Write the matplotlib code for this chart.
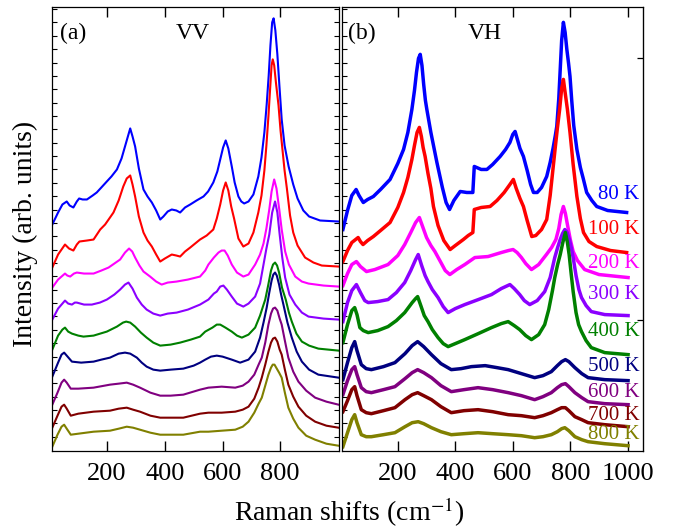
import numpy as np
import matplotlib
matplotlib.use('Agg')
import matplotlib.pyplot as plt

plt.rcParams['font.family'] = ['Liberation Serif', 'DejaVu Serif']
plt.rcParams['mathtext.fontset'] = 'stix'

# temperaturas y colores de cada espectro (de arriba hacia abajo)
temps = ['80 K', '100 K', '200 K', '300 K', '400 K', '500 K', '600 K', '700 K', '800 K']
colores = ['#0000FF', '#FF0000', '#FF00FF', '#8B00FF', '#008000',
           '#000080', '#800080', '#800000', '#808000']

# ---- VV (intensidad en unidades arbitrarias, ya desplazada) ----
x_vv_80 = [10, 30, 45, 60, 70, 83, 95, 103, 115, 130, 150, 164, 180, 199, 215, 234, 250, 262, 272, 280,
           288, 297, 310, 326, 340, 355, 370, 384, 395, 410, 424, 440, 453, 470, 488, 510, 534, 550, 568,
           582, 592, 602, 611, 620, 632, 642, 655, 665, 675, 690, 707, 724, 735, 745, 753, 760, 766, 772,
           777, 783, 790, 797, 805, 815, 829, 845, 860, 880, 900, 938, 1002]
i_vv_80 = [226, 238, 246, 249, 245, 243, 249, 252, 251, 251, 255, 258, 263, 269, 274, 281, 292, 304, 314, 322,
           314, 304, 282, 261, 254, 248, 240, 231, 234, 239, 241, 240, 238, 243, 246, 250, 254, 259, 268,
           279, 291, 303, 310, 302, 284, 268, 254, 249, 247, 249, 256, 274, 293, 318, 346, 375, 405, 428,
           432, 420, 396, 365, 331, 305, 284, 266, 252, 240, 234, 230, 229]

x_vv_100 = [10, 30, 54, 68, 83, 95, 104, 130, 153, 176, 193, 210, 222, 240, 256, 268, 280, 288, 297, 310,
            326, 340, 355, 370, 384, 400, 424, 440, 453, 470, 488, 505, 522, 545, 568, 580, 592, 602, 611,
            620, 630, 640, 655, 672, 690, 707, 724, 735, 745, 752, 759, 765, 770, 774, 779, 785, 794, 801,
            808, 815, 823, 834, 845, 860, 886, 915, 944, 1002]
i_vv_100 = [183, 196, 206, 202, 200, 206, 209, 210, 211, 221, 226, 233, 238, 250, 264, 272, 275, 266, 254, 234,
            218, 210, 204, 196, 189, 192, 196, 195, 194, 199, 203, 207, 211, 215, 221, 232, 246, 260, 268,
            260, 244, 232, 212, 204, 207, 218, 238, 255, 280, 305, 334, 362, 385, 391, 385, 368, 345, 320,
            300, 280, 262, 235, 218, 205, 193, 188, 185, 184]

x_vv_200 = [10, 30, 54, 62, 72, 85, 95, 120, 153, 180, 205, 225, 245, 262, 276, 287, 297, 312, 326, 349,
            370, 389, 410, 441, 480, 522, 540, 551, 570, 586, 597, 607, 618, 632, 650, 672, 690, 713, 730,
            742, 752, 762, 770, 779, 787, 797, 805, 817, 830, 852, 875, 898, 950, 1002]
i_vv_200 = [163, 171, 177, 175, 174, 177, 178, 177, 177, 180, 183, 187, 191, 198, 202, 199, 193, 185, 179, 174,
            169, 166, 168, 169, 171, 174, 180, 186, 193, 198, 200, 200, 195, 186, 178, 174, 176, 186, 196,
            207, 222, 241, 259, 271, 262, 240, 221, 199, 186, 174, 169, 167, 165, 164]

x_vv_300 = [10, 30, 54, 65, 78, 88, 95, 120, 147, 175, 199, 225, 245, 262, 274, 288, 303, 320, 337, 360,
            384, 410, 441, 480, 522, 551, 570, 580, 592, 603, 615, 632, 650, 672, 690, 713, 730, 742, 752,
            762, 772, 782, 790, 798, 807, 817, 832, 852, 875, 898, 950, 1002]
i_vv_300 = [131, 142, 150, 147, 146, 148, 148, 146, 146, 148, 151, 156, 161, 166, 168, 162, 153, 146, 141, 137,
            135, 137, 138, 141, 146, 151, 157, 159, 164, 165, 161, 154, 147, 144, 147, 154, 167, 186, 202,
            216, 238, 249, 238, 216, 193, 173, 156, 146, 138, 134, 132, 131]

x_vv_400 = [10, 30, 45, 54, 65, 78, 100, 118, 153, 199, 234, 255, 266, 280, 297, 317, 337, 360, 384, 420,
            453, 490, 522, 540, 565, 580, 592, 610, 632, 650, 667, 690, 713, 730, 740, 748, 758, 768, 775,
            782, 789, 796, 806, 819, 830, 840, 856, 875, 900, 932, 1002]
i_vv_400 = [101, 115, 121, 123, 119, 117, 115, 114, 115, 119, 124, 128, 129, 128, 124, 118, 113, 108, 105, 106,
            108, 111, 114, 119, 123, 126, 126, 123, 119, 115, 113, 116, 123, 135, 144, 151, 165, 180, 186,
            188, 185, 178, 163, 151, 138, 129, 117, 109, 105, 102, 100]

x_vv_500 = [10, 30, 42, 51, 60, 78, 110, 153, 180, 210, 240, 262, 280, 303, 320, 337, 360, 384, 420, 464,
            500, 522, 540, 560, 580, 600, 632, 661, 690, 713, 730, 742, 753, 762, 770, 776, 782, 788, 796,
            803, 811, 825, 840, 857, 875, 900, 932, 1002]
i_vv_500 = [74, 88, 96, 98, 95, 89, 88, 89, 91, 93, 97, 98, 97, 93, 88, 84, 81, 80, 81, 82,
            85, 88, 91, 94, 95, 94, 91, 88, 91, 99, 113, 128, 143, 158, 170, 176, 178, 175, 166,
            156, 146, 128, 113, 99, 89, 81, 76, 73]

x_vv_600 = [10, 28, 42, 51, 60, 74, 100, 153, 210, 240, 268, 290, 314, 350, 384, 420, 464, 522, 551, 597,
            644, 670, 690, 710, 725, 736, 748, 759, 768, 775, 782, 790, 798, 805, 816, 828, 845, 863, 890,
            921, 960, 1002]
i_vv_600 = [46, 58, 68, 71, 68, 62, 62, 63, 66, 67, 68, 66, 63, 58, 55, 55, 56, 61, 63, 64,
            63, 65, 69, 76, 86, 93, 108, 126, 137, 142, 143, 140, 132, 126, 110, 93, 79, 69, 60,
            53, 49, 46]

x_vv_700 = [10, 28, 42, 51, 60, 74, 100, 153, 210, 240, 268, 290, 314, 350, 384, 420, 464, 522, 551, 597,
            644, 670, 690, 710, 725, 736, 748, 759, 768, 775, 782, 790, 798, 805, 816, 828, 845, 863, 890,
            921, 960, 1002]
i_vv_700 = [23, 35, 44, 46, 42, 35, 37, 39, 40, 42, 43, 41, 39, 35, 33, 33, 33, 37, 38, 38,
            39, 41, 44, 52, 63, 73, 86, 99, 108, 112, 113, 109, 101, 96, 81, 66, 54, 44, 35,
            29, 25, 23]

x_vv_800 = [10, 28, 42, 51, 60, 74, 100, 153, 210, 240, 268, 290, 314, 350, 384, 420, 464, 522, 551, 597,
            644, 670, 690, 710, 725, 736, 748, 759, 768, 774, 780, 788, 796, 805, 816, 828, 845, 863, 890,
            921, 960, 1002]
i_vv_800 = [4, 16, 24, 26, 22, 16, 17, 19, 20, 22, 24, 23, 21, 18, 16, 16, 16, 19, 19, 20,
            21, 24, 29, 38, 47, 53, 65, 76, 83, 86, 86, 82, 78, 73, 58, 43, 32, 23, 15,
            11, 7, 5]

# ---- VH ----
x_vh_80 = [9, 25, 40, 55, 65, 80, 95, 115, 140, 173, 200, 220, 235, 249, 258, 265, 272, 278, 284, 290,
           296, 301, 315, 336, 355, 368, 380, 395, 417, 440, 461, 466, 490, 510, 530, 556, 575, 590, 600,
           608, 615, 625, 637, 650, 662, 672, 685, 700, 718, 730, 740, 748, 753, 760, 765, 770, 776, 782,
           788, 794, 799, 805, 812, 823, 835, 845, 857, 875, 892, 930, 996]
i_vh_80 = [221, 240, 255, 261, 255, 248, 251, 254, 261, 271, 287, 301, 318, 341, 360, 378, 392, 396, 385, 366,
           350, 341, 318, 288, 263, 248, 241, 250, 259, 258, 258, 284, 281, 281, 286, 294, 301, 308, 316,
           319, 312, 302, 294, 280, 266, 258, 258, 263, 274, 288, 302, 315, 324, 352, 381, 410, 428, 418,
           401, 387, 374, 350, 325, 301, 283, 272, 258, 250, 244, 240, 238]

x_vh_100 = [9, 25, 40, 62, 70, 79, 95, 115, 140, 173, 200, 220, 235, 249, 258, 267, 275, 282, 288, 295,
            305, 315, 324, 340, 360, 382, 400, 428, 445, 461, 466, 490, 521, 545, 570, 590, 602, 612, 625,
            637, 650, 666, 680, 700, 718, 730, 740, 747, 755, 763, 770, 776, 782, 790, 799, 810, 823, 835,
            846, 865, 892, 940, 996]
i_vh_100 = [189, 200, 208, 213, 209, 206, 210, 214, 220, 228, 243, 258, 273, 291, 305, 318, 323, 314, 303, 294,
            277, 262, 244, 225, 210, 201, 205, 211, 215, 218, 241, 243, 244, 250, 258, 266, 271, 262, 252,
            244, 230, 214, 215, 221, 231, 255, 282, 301, 322, 341, 362, 371, 358, 341, 318, 286, 254, 232,
            218, 209, 204, 200, 198]

x_vh_200 = [9, 25, 40, 56, 70, 91, 120, 166, 200, 224, 245, 262, 275, 285, 300, 315, 329, 350, 365, 381,
            405, 433, 468, 514, 560, 585, 601, 615, 630, 645, 665, 690, 717, 735, 750, 760, 768, 776, 783,
            790, 800, 810, 825, 850, 900, 1001]
i_vh_200 = [165, 177, 186, 189, 184, 179, 181, 186, 195, 206, 218, 228, 233, 225, 213, 205, 199, 188, 180, 176,
            181, 186, 193, 194, 198, 200, 201, 198, 193, 187, 181, 186, 196, 203, 211, 222, 236, 244, 237,
            226, 211, 199, 190, 181, 176, 173]

x_vh_300 = [9, 25, 40, 56, 70, 85, 97, 130, 166, 195, 224, 245, 262, 271, 283, 295, 305, 320, 340, 358,
            375, 400, 433, 480, 526, 560, 590, 605, 624, 640, 659, 685, 711, 730, 746, 756, 765, 773, 781,
            789, 797, 804, 810, 820, 830, 839, 855, 873, 920, 1001]
i_vh_300 = [129, 148, 160, 166, 158, 150, 148, 149, 151, 158, 168, 180, 191, 196, 185, 175, 169, 161, 153, 144,
            138, 142, 146, 151, 156, 162, 166, 162, 156, 150, 146, 150, 159, 173, 193, 203, 211, 217, 221,
            218, 211, 202, 193, 175, 161, 153, 145, 139, 136, 135]

x_vh_400 = [9, 25, 40, 50, 58, 68, 80, 97, 130, 166, 195, 224, 250, 262, 269, 280, 292, 305, 320, 340,
            358, 375, 400, 433, 480, 526, 560, 584, 605, 624, 645, 665, 690, 711, 725, 738, 746, 756, 765,
            774, 783, 790, 796, 803, 810, 820, 829, 839, 855, 873, 920, 1001]
i_vh_400 = [108, 126, 140, 143, 136, 123, 120, 118, 120, 124, 130, 138, 148, 152, 154, 145, 135, 129, 121, 113,
            107, 104, 107, 111, 117, 123, 127, 129, 125, 121, 115, 111, 116, 126, 141, 160, 173, 186, 196,
            208, 218, 208, 196, 177, 159, 138, 126, 119, 110, 103, 98, 96]

x_vh_500 = [9, 25, 40, 50, 58, 73, 90, 108, 150, 190, 225, 250, 269, 290, 317, 350, 386, 420, 456, 504,
            545, 584, 630, 676, 705, 734, 755, 770, 783, 795, 816, 840, 862, 920, 1001]
i_vh_500 = [71, 88, 103, 109, 100, 86, 82, 81, 84, 88, 97, 105, 109, 104, 96, 87, 81, 82, 84, 85,
            83, 81, 77, 73, 75, 79, 85, 89, 91, 89, 83, 77, 73, 71, 70]

x_vh_600 = [9, 25, 40, 50, 58, 73, 90, 108, 150, 190, 225, 250, 269, 290, 317, 350, 386, 430, 479, 530,
            584, 630, 676, 705, 734, 755, 770, 783, 795, 816, 840, 862, 920, 1001]
i_vh_600 = [56, 70, 81, 84, 76, 63, 59, 58, 61, 64, 72, 78, 81, 78, 73, 65, 59, 61, 63, 61,
            58, 55, 51, 54, 58, 63, 66, 67, 64, 58, 53, 49, 47, 46]

x_vh_700 = [9, 25, 40, 50, 58, 73, 90, 108, 150, 190, 225, 250, 269, 290, 317, 350, 386, 430, 479, 530,
            584, 630, 676, 705, 734, 755, 770, 783, 795, 816, 840, 862, 920, 1001]
i_vh_700 = [39, 50, 61, 64, 55, 41, 38, 37, 40, 43, 51, 56, 58, 55, 51, 44, 38, 40, 41, 39,
            36, 35, 33, 35, 38, 41, 43, 43, 40, 34, 31, 28, 26, 24]

x_vh_800 = [9, 25, 40, 50, 58, 73, 90, 108, 150, 190, 225, 250, 271, 290, 317, 350, 386, 430, 479, 530,
            584, 630, 676, 705, 734, 755, 770, 781, 795, 816, 840, 862, 920, 1001]
i_vh_800 = [4, 18, 31, 36, 28, 16, 14, 14, 16, 18, 24, 28, 29, 27, 23, 19, 16, 17, 18, 17,
            16, 15, 13, 14, 16, 19, 22, 23, 20, 14, 11, 9, 7, 5]

# altura de cada etiqueta de temperatura
y_etiq = [256, 221, 187, 156, 119, 84, 58, 35, 16]

vv = [(x_vv_80, i_vv_80), (x_vv_100, i_vv_100), (x_vv_200, i_vv_200), (x_vv_300, i_vv_300),
      (x_vv_400, i_vv_400), (x_vv_500, i_vv_500), (x_vv_600, i_vv_600), (x_vv_700, i_vv_700),
      (x_vv_800, i_vv_800)]
vh = [(x_vh_80, i_vh_80), (x_vh_100, i_vh_100), (x_vh_200, i_vh_200), (x_vh_300, i_vh_300),
      (x_vh_400, i_vh_400), (x_vh_500, i_vh_500), (x_vh_600, i_vh_600), (x_vh_700, i_vh_700),
      (x_vh_800, i_vh_800)]

fig = plt.figure(figsize=(6.74, 5.30), dpi=100)
axa = fig.add_axes([0.0776, 0.1496, 0.4251, 0.8366])
axb = fig.add_axes([0.5079, 0.1496, 0.4457, 0.8366])

for (x, y), c in zip(vv, colores):
    axa.plot(x, y, color=c, lw=1.5)
for (x, y), c in zip(vh, colores):
    axb.plot(x, y, color=c, lw=2.5)

for t, yy, c in zip(temps, y_etiq, colores):
    axb.text(1040, yy, t, color=c, fontsize=15, ha='right', va='center')

axa.set_xlim(10, 1003)
axb.set_xlim(7, 1052)
axa.set_xticks([200, 400, 600, 800])
axb.set_xticks([200, 400, 600, 800, 1000])

marcas_y = np.arange(14, 443, 13.35)
for ax in (axa, axb):
    ax.set_ylim(0, 443)
    ax.set_yticks(marcas_y)
    ax.tick_params(axis='x', direction='in', top=True, length=7, width=1, labelsize=19, pad=9)
    ax.tick_params(axis='y', direction='in', length=3.5, width=0.8, labelleft=False)
    for s in ax.spines.values():
        s.set_linewidth(0.9)
axa.tick_params(axis='y', right=True)

# marcas grandes a la derecha del panel (b)
sec = axb.secondary_yaxis('right')
sec.set_yticks([131, 392])
sec.tick_params(direction='in', length=4, width=0.9, labelright=False)

axa.text(0.027, 0.928, '(a)', transform=axa.transAxes, fontsize=17, ha='left', va='baseline')
axa.text(0.489, 0.928, 'VV', transform=axa.transAxes, fontsize=17, ha='center', va='baseline')
axb.text(0.019, 0.928, '(b)', transform=axb.transAxes, fontsize=17, ha='left', va='baseline')
axb.text(0.475, 0.928, 'VH', transform=axb.transAxes, fontsize=17, ha='center', va='baseline')

fig.text(0.518, 0.034, 'Raman shifts (cm$^{-1}$)', ha='center', va='center', fontsize=20)
fig.text(0.037, 0.558, 'Intensity (arb. units)', ha='center', va='center', rotation=90, fontsize=20)

plt.savefig('out.png', dpi=100)
plt.close()
